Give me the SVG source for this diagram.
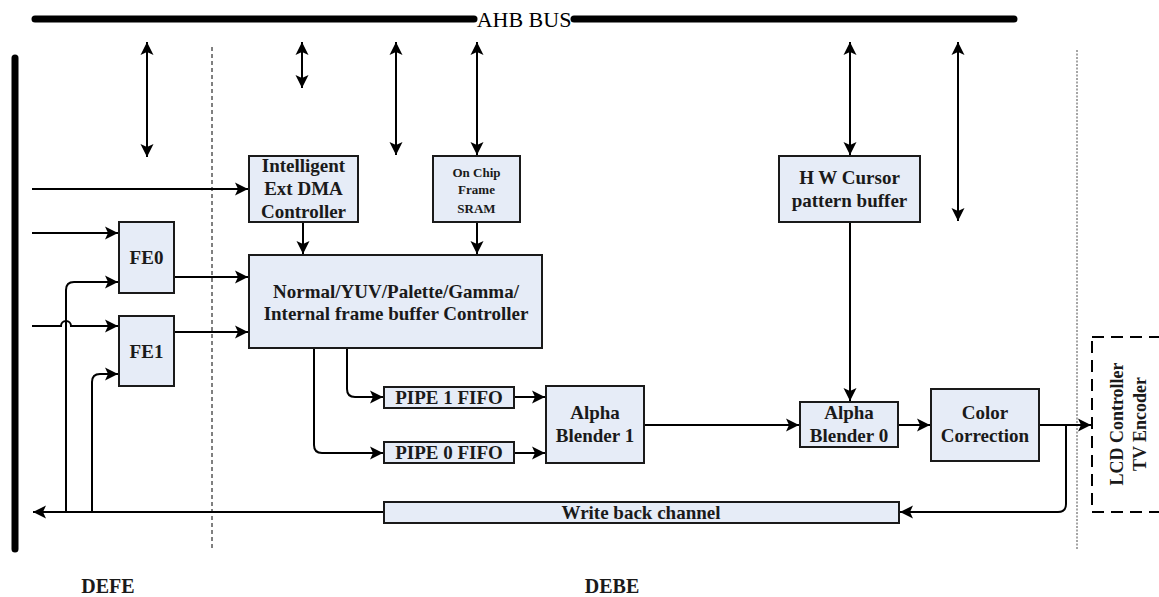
<svg xmlns="http://www.w3.org/2000/svg" width="1159" height="597" viewBox="0 0 1159 597">
<style>
text{font-family:"Times New Roman","Liberation Serif","DejaVu Serif",serif}
.box{fill:#e6ecf7;stroke:#1a1a1a;stroke-width:2}
.t{font-weight:bold;font-size:19px;fill:#1a1a1a;text-anchor:middle}
.s{font-size:13px}
.c{fill:none;stroke:#000;stroke-width:2}
.a{marker-end:url(#ah)}
.d{marker-end:url(#ah);marker-start:url(#ah)}
</style>
<defs>
<marker id="ah" markerUnits="userSpaceOnUse" markerWidth="14" markerHeight="14" viewBox="0 0 14 14" refX="13" refY="7" orient="auto-start-reverse">
<path d="M0,0.5 L13,7 L0,13.5 L3,7 Z" fill="#000"/>
</marker>
</defs>
<rect width="1159" height="597" fill="#fff"/>
<g id="ahb-bus">
<line x1="35" y1="19" x2="474" y2="19" stroke="#000" stroke-width="7" stroke-linecap="round"/>
<line x1="574" y1="19" x2="1014" y2="19" stroke="#000" stroke-width="7" stroke-linecap="round"/>
<text x="524" y="27" font-size="22" text-anchor="middle" fill="#000">AHB BUS</text>
</g>
<g id="left-bus">
<line x1="15" y1="58" x2="15" y2="549" stroke="#000" stroke-width="7" stroke-linecap="round"/>
</g>
<g id="dividers">
<line x1="212" y1="47" x2="212" y2="550" stroke="#000" stroke-width="1" stroke-dasharray="4,3"/>
<line x1="1077" y1="50" x2="1077" y2="550" stroke="#888" stroke-width="1.5" stroke-dasharray="2,1.5"/>
</g>
<g id="connectors">
<line class="c d" x1="147" y1="42" x2="147" y2="157"/>
<line class="c d" x1="302" y1="42" x2="302" y2="88"/>
<line class="c d" x1="396" y1="42" x2="396" y2="155"/>
<line class="c d" x1="477" y1="42" x2="477" y2="155"/>
<line class="c d" x1="850" y1="42" x2="850" y2="155"/>
<line class="c d" x1="958" y1="42" x2="958" y2="221"/>
<path class="c a" d="M32,189 H248"/>
<path class="c a" d="M32,233 H118"/>
<path class="c a" d="M32,326 H61 A5,5 0 0 1 71,326 H118"/>
<path class="c a" d="M66,512 V290 Q66,282 74,282 H118"/>
<path class="c a" d="M92,512 V382 Q92,374 100,374 H118"/>
<path class="c a" d="M175,277 H248"/>
<path class="c a" d="M175,332 H248"/>
<path class="c a" d="M303,223 V254"/>
<path class="c a" d="M477,223 V254"/>
<path class="c a" d="M314,348 V445 Q314,453 322,453 H383"/>
<path class="c a" d="M347,348 V389 Q347,397 355,397 H383"/>
<path class="c a" d="M515,397 H545"/>
<path class="c a" d="M515,453 H545"/>
<path class="c a" d="M645,425 H799"/>
<path class="c a" d="M850,223 V401"/>
<path class="c a" d="M899,425 H930"/>
<path class="c a" d="M1040,425 H1091"/>
<path class="c a" d="M1066,425 V504 Q1066,512 1058,512 H900"/>
<path class="c a" d="M384,512 H33"/>
</g>
<g id="dma">
<rect class="box" x="249" y="156" width="109" height="66"/>
<text class="t" x="303.5" y="172">Intelligent</text>
<text class="t" x="303.5" y="195">Ext DMA</text>
<text class="t" x="303.5" y="218">Controller</text>
</g>
<g id="sram">
<rect class="box" x="433" y="156" width="87" height="66"/>
<text class="t s" x="476.5" y="177">On Chip</text>
<text class="t s" x="476.5" y="194">Frame</text>
<text class="t s" x="476.5" y="213">SRAM</text>
</g>
<g id="cursor">
<rect class="box" x="779" y="156" width="141" height="66"/>
<text class="t" x="849.5" y="184">H W Cursor</text>
<text class="t" x="849.5" y="207">pattern buffer</text>
</g>
<g id="fe0">
<rect class="box" x="119" y="222" width="55" height="71"/>
<text class="t" x="146.5" y="264">FE0</text>
</g>
<g id="fe1">
<rect class="box" x="119" y="316" width="55" height="70"/>
<text class="t" x="146.5" y="358">FE1</text>
</g>
<g id="controller">
<rect class="box" x="249" y="255" width="293" height="93"/>
<text class="t" x="396" y="298">Normal/YUV/Palette/Gamma/</text>
<text class="t" x="396" y="320">Internal frame buffer Controller</text>
</g>
<g id="pipe1">
<rect class="box" x="384" y="387" width="130" height="21"/>
<text class="t" x="449" y="404">PIPE 1 FIFO</text>
</g>
<g id="pipe0">
<rect class="box" x="384" y="442" width="130" height="21"/>
<text class="t" x="449" y="459">PIPE 0 FIFO</text>
</g>
<g id="blender1">
<rect class="box" x="546" y="386" width="98" height="77"/>
<text class="t" x="595" y="419">Alpha</text>
<text class="t" x="595" y="442">Blender 1</text>
</g>
<g id="blender0">
<rect class="box" x="800" y="402" width="98" height="45"/>
<text class="t" x="849" y="419">Alpha</text>
<text class="t" x="849" y="442">Blender 0</text>
</g>
<g id="color">
<rect class="box" x="931" y="389" width="108" height="72"/>
<text class="t" x="985" y="419">Color</text>
<text class="t" x="985" y="442">Correction</text>
</g>
<g id="writeback">
<rect class="box" x="384" y="502" width="515" height="21"/>
<text class="t" x="641" y="519">Write back channel</text>
</g>
<g id="lcd">
<rect x="1092" y="337" width="80" height="175" fill="none" stroke="#000" stroke-width="2" stroke-dasharray="12,7"/>
<text class="t" font-size="18" style="font-size:18px" transform="translate(1123,424) rotate(-90)">LCD Controller</text>
<text class="t" style="font-size:18px" transform="translate(1146,424) rotate(-90)">TV Encoder</text>
</g>
<g id="labels">
<text class="t" style="font-size:20px" x="108" y="593">DEFE</text>
<text class="t" style="font-size:20px" x="612" y="593">DEBE</text>
</g>
</svg>
